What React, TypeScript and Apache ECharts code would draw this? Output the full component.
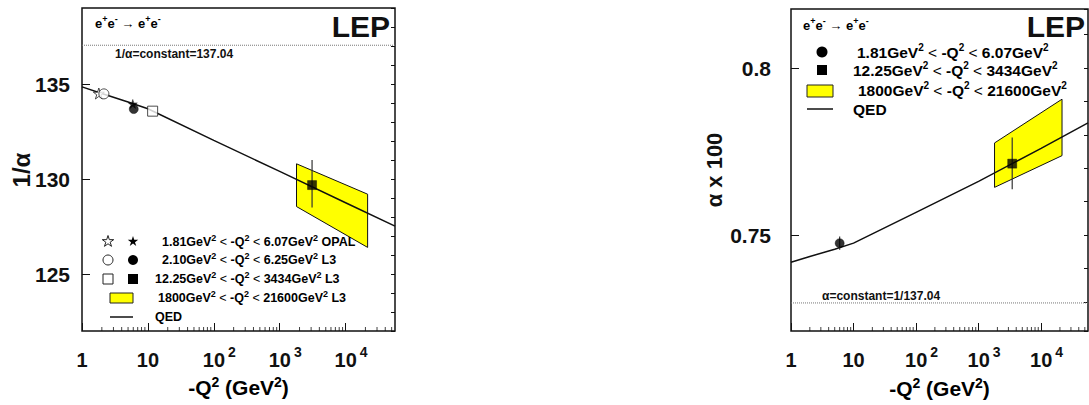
import React, { useEffect, useRef } from "react";
import * as echarts from "echarts";

const FONT = "'Liberation Sans', Arial, Helvetica, sans-serif";

// ---------- axis ranges ----------
const X_MIN = 1;
const X_MAX = 56234; // 10^4.75
const LEFT_Y_MIN = 122;
const LEFT_Y_MAX = 139;
const RIGHT_Y_MIN = 0.7213;
const RIGHT_Y_MAX = 0.8177;

// minor x ticks (2..9 per decade)
const minorXTicks = [
  2, 3, 4, 5, 6, 7, 8, 9,
  20, 30, 40, 50, 60, 70, 80, 90,
  200, 300, 400, 500, 600, 700, 800, 900,
  2000, 3000, 4000, 5000, 6000, 7000, 8000, 9000,
  20000, 30000, 40000, 50000,
];

// ---------- left panel data (1/alpha) ----------
const qedLeftQ2 = [1, 2, 5, 10, 100, 1000, 10000, 56234];
const qedLeftInv = [134.85, 134.5, 134.05, 133.7, 132.03, 130.4, 128.75, 127.52];
const leftConstant = 137.04;
const leftOpenStar = [[1.8, 134.5]];
const leftOpenCircle = [[2.15, 134.48]];
const leftFilledStar = [[5.9, 133.95]];
const leftFilledCircle = [[6.1, 133.68]];
const leftOpenSquare = [[11.8, 133.57]];
const leftFilledSquare = [[3100, 129.68]];
const leftErrorBars = [[3100, 128.5, 131.0]];
const leftBand = [[1800, 130.8, 128.55, 21600, 129.2, 126.4]];

// ---------- right panel data (alpha x 100) ----------
const qedRightQ2 = [1, 2, 5, 10, 100, 1000, 10000, 56234];
const qedRightAlpha = [0.7419, 0.7436, 0.7458, 0.7476, 0.7568, 0.7661, 0.776, 0.7836];
const rightConstant = 0.7297;
const rightFilledCircle = [[6.0, 0.7476]];
const rightFilledSquare = [[3450, 0.7714]];
const rightErrorBars = [
  [6.0, 0.7456, 0.7496],
  [3450, 0.7637, 0.7792],
];
const rightBand = [[1800, 0.7776, 0.7643, 21600, 0.7907, 0.7738]];

// star symbol path
const STAR_PATH = (() => {
  let d = "";
  for (let k = 0; k < 10; k++) {
    const a = -Math.PI / 2 + (k * Math.PI) / 5;
    const r = k % 2 ? 19 : 50;
    d += (k ? "L" : "M") + (50 + r * Math.cos(a)).toFixed(2) + " " + (50 + r * Math.sin(a)).toFixed(2);
  }
  return "path://" + d + "Z";
})();

function starPoints(cx: number, cy: number, R: number) {
  const pts: number[][] = [];
  for (let k = 0; k < 10; k++) {
    const a = -Math.PI / 2 + (k * Math.PI) / 5;
    const r = k % 2 ? R * 0.38 : R;
    pts.push([cx + r * Math.cos(a), cy + r * Math.sin(a)]);
  }
  return pts;
}

const xRich = {
  b: { fontSize: 20, fontWeight: "bold", fontFamily: FONT, color: "#111", lineHeight: 30 },
  b2: { fontSize: 20, fontWeight: "bold", fontFamily: FONT, color: "#111", lineHeight: 30, padding: [0, 0, 0, 11] },
  s: { fontSize: 14, fontWeight: "bold", fontFamily: FONT, color: "#111", lineHeight: 14, verticalAlign: "top", padding: [0, 0, 0, 3] },
};

function xLabel(v: number) {
  const n = Math.round(Math.log10(v));
  if (n === 0) return "{b|1}";
  if (n === 1) return "{b|10}";
  return "{b2|10}{s|" + n + "}";
}

function richLeg(fs: number, ss: number) {
  return {
    t: { fontSize: fs, fontWeight: "bold", fontFamily: FONT, color: "#111", lineHeight: fs + 4 },
    l: { fontSize: fs, fontFamily: FONT, color: "#444", lineHeight: fs + 4 },
    s: { fontSize: ss, fontWeight: "bold", fontFamily: FONT, color: "#111", lineHeight: ss, verticalAlign: "top" },
  };
}

function txt(x: number, y: number, text: string, rich: any, align = "left") {
  return { type: "text", x, y, style: { text, rich, align, verticalAlign: "middle" }, z: 10 };
}

function plainTxt(x: number, y: number, text: string, size: number, align = "left", rotation = 0, weight = "bold") {
  return {
    type: "text",
    x,
    y,
    rotation,
    style: { text, fontSize: size, fontWeight: weight, fontFamily: FONT, fill: "#111", align, verticalAlign: "middle" },
    z: 10,
  };
}

function bandSeries(xi: number, yi: number, data: number[][]) {
  return {
    type: "custom",
    xAxisIndex: xi,
    yAxisIndex: yi,
    dimensions: ["x0", "yt0", "yb0", "x1", "yt1", "yb1"],
    encode: { x: [0, 3], y: [1, 2, 4, 5] },
    data,
    z: 1,
    renderItem: (params: any, api: any) => {
      const p1 = api.coord([api.value(0), api.value(1)]);
      const p2 = api.coord([api.value(3), api.value(4)]);
      const p3 = api.coord([api.value(3), api.value(5)]);
      const p4 = api.coord([api.value(0), api.value(2)]);
      return {
        type: "polygon",
        shape: { points: [p1, p2, p3, p4] },
        style: { fill: "#ffff00", stroke: "#111", lineWidth: 1 },
      };
    },
  };
}

function errSeries(xi: number, yi: number, data: number[][]) {
  return {
    type: "custom",
    xAxisIndex: xi,
    yAxisIndex: yi,
    dimensions: ["x", "lo", "hi"],
    encode: { x: 0, y: [1, 2] },
    data,
    z: 4,
    renderItem: (params: any, api: any) => {
      const a = api.coord([api.value(0), api.value(1)]);
      const b = api.coord([api.value(0), api.value(2)]);
      return {
        type: "line",
        shape: { x1: a[0], y1: a[1], x2: b[0], y2: b[1] },
        style: { stroke: "#333", lineWidth: 1.2 },
      };
    },
  };
}

function scatter(xi: number, yi: number, data: number[][], symbol: string, size: number, filled: boolean) {
  return {
    type: "scatter",
    xAxisIndex: xi,
    yAxisIndex: yi,
    data,
    symbol,
    symbolSize: size,
    z: 5,
    itemStyle: filled
      ? { color: "#000", borderColor: "#000", borderWidth: 0.5 }
      : { color: "#fff", borderColor: "#222", borderWidth: 1 },
  };
}

function qedSeries(xi: number, yi: number, xs: number[], ys: number[]) {
  return {
    type: "line",
    xAxisIndex: xi,
    yAxisIndex: yi,
    data: xs.map((x, i) => [x, ys[i]]),
    symbol: "none",
    z: 3,
    lineStyle: { color: "#111", width: 1.5 },
  };
}

function constSeries(xi: number, yi: number, v: number) {
  return {
    type: "line",
    xAxisIndex: xi,
    yAxisIndex: yi,
    data: [
      [X_MIN, v],
      [X_MAX, v],
    ],
    symbol: "none",
    z: 2,
    lineStyle: { color: "#777", width: 1, type: "dotted" },
  };
}

function minorTickSeries(xi: number, yi: number, yMin: number) {
  return {
    type: "scatter",
    xAxisIndex: xi,
    yAxisIndex: yi,
    data: minorXTicks.map((v) => [v, yMin]),
    symbol: "rect",
    symbolSize: [1, 4],
    symbolOffset: [0, -2],
    clip: false,
    silent: true,
    z: 6,
    itemStyle: { color: "#111" },
  };
}

function xAxisDef(gridIndex: number) {
  return {
    type: "log",
    logBase: 10,
    gridIndex,
    min: X_MIN,
    max: X_MAX,
    axisLine: { show: false },
    splitLine: { show: false },
    axisTick: { show: true, inside: true, length: 8, lineStyle: { color: "#111", width: 1 } },
    axisLabel: { formatter: xLabel, rich: xRich, margin: 14, showMaxLabel: false, showMinLabel: true },
  };
}

export default function App() {
  const ref = useRef<HTMLDivElement>(null);

  useEffect(() => {
    if (!ref.current) return;
    const chart = echarts.init(ref.current, undefined, { renderer: "svg" });

    const legL = richLeg(12.5, 9);
    const legR = richLeg(15.5, 10);
    const eeRich = richLeg(13, 9);

    const option: any = {
      animation: false,
      backgroundColor: "#fff",
      grid: [
        { left: 82, top: 8, width: 313, height: 323, show: true, borderColor: "#111", borderWidth: 1.5, backgroundColor: "transparent" },
        { left: 791, top: 9, width: 297, height: 322, show: true, borderColor: "#111", borderWidth: 1.5, backgroundColor: "transparent" },
      ],
      xAxis: [xAxisDef(0), xAxisDef(1)],
      yAxis: [
        {
          type: "value",
          gridIndex: 0,
          min: LEFT_Y_MIN,
          max: LEFT_Y_MAX,
          splitNumber: 3,
          axisLine: { show: false },
          splitLine: { show: false },
          axisTick: { inside: true, length: 8, lineStyle: { color: "#111" } },
          axisLabel: {
            showMinLabel: false,
            showMaxLabel: false,
            margin: 12,
            fontSize: 21,
            fontWeight: "bold",
            fontFamily: FONT,
            color: "#111",
            formatter: (v: number) => String(Math.round(v)),
          },
        },
        {
          type: "value",
          gridIndex: 0,
          min: LEFT_Y_MIN,
          max: LEFT_Y_MAX,
          interval: 1,
          axisLine: { show: false },
          splitLine: { show: false },
          axisTick: { inside: true, length: 4, lineStyle: { color: "#111" } },
          axisLabel: { show: false },
        },
        {
          type: "value",
          gridIndex: 1,
          min: RIGHT_Y_MIN,
          max: RIGHT_Y_MAX,
          splitNumber: 2,
          axisLine: { show: false },
          splitLine: { show: false },
          axisTick: { inside: true, length: 8, lineStyle: { color: "#111" } },
          axisLabel: {
            showMinLabel: false,
            showMaxLabel: false,
            margin: 20,
            fontSize: 21,
            fontWeight: "bold",
            fontFamily: FONT,
            color: "#111",
            formatter: (v: number) => String(Math.round(v * 100) / 100),
          },
        },
        {
          type: "value",
          gridIndex: 1,
          min: RIGHT_Y_MIN,
          max: RIGHT_Y_MAX,
          splitNumber: 10,
          axisLine: { show: false },
          splitLine: { show: false },
          axisTick: { inside: true, length: 4, lineStyle: { color: "#111" } },
          axisLabel: { show: false },
        },
      ],
      series: [
        // left panel
        bandSeries(0, 0, leftBand),
        constSeries(0, 0, leftConstant),
        qedSeries(0, 0, qedLeftQ2, qedLeftInv),
        errSeries(0, 0, leftErrorBars),
        scatter(0, 0, leftOpenStar, STAR_PATH, 11, false),
        scatter(0, 0, leftOpenCircle, "circle", 10, false),
        scatter(0, 0, leftFilledStar, STAR_PATH, 9, true),
        scatter(0, 0, leftFilledCircle, "circle", 9, true),
        scatter(0, 0, leftOpenSquare, "rect", 10, false),
        scatter(0, 0, leftFilledSquare, "rect", 9, true),
        minorTickSeries(0, 0, LEFT_Y_MIN),
        // right panel
        bandSeries(1, 2, rightBand),
        constSeries(1, 2, rightConstant),
        qedSeries(1, 2, qedRightQ2, qedRightAlpha),
        errSeries(1, 2, rightErrorBars),
        scatter(1, 2, rightFilledCircle, "circle", 9, true),
        scatter(1, 2, rightFilledSquare, "rect", 9, true),
        minorTickSeries(1, 2, RIGHT_Y_MIN),
      ],
      graphic: [
        // ----- left panel texts -----
        txt(95, 23, "{t|e}{s|+}{t|e}{s|-}{t| → e}{s|+}{t|e}{s|-}", eeRich),
        plainTxt(390, 26, "LEP", 30, "right"),
        plainTxt(115, 54, "1/α=constant=137.04", 12),
        // legend left
        { type: "polygon", shape: { points: starPoints(108, 241.5, 6) }, style: { fill: "#fff", stroke: "#222", lineWidth: 1 }, z: 10 },
        { type: "polygon", shape: { points: starPoints(133, 241.5, 5.5) }, style: { fill: "#000" }, z: 10 },
        { type: "circle", shape: { cx: 108, cy: 260, r: 5 }, style: { fill: "#fff", stroke: "#222", lineWidth: 1 }, z: 10 },
        { type: "circle", shape: { cx: 133, cy: 260, r: 5 }, style: { fill: "#000" }, z: 10 },
        { type: "rect", shape: { x: 103, y: 274, width: 10, height: 10 }, style: { fill: "#fff", stroke: "#222", lineWidth: 1 }, z: 10 },
        { type: "rect", shape: { x: 128, y: 274, width: 10, height: 10 }, style: { fill: "#000" }, z: 10 },
        { type: "rect", shape: { x: 110, y: 293, width: 23, height: 10 }, style: { fill: "#ffff00", stroke: "#222", lineWidth: 1 }, z: 10 },
        { type: "line", shape: { x1: 110, y1: 317, x2: 133, y2: 317 }, style: { stroke: "#111", lineWidth: 1.5 }, z: 10 },
        txt(162, 241.5, "{t|1.81GeV}{s|2}{l| < }{t|-Q}{s|2}{l| < }{t|6.07GeV}{s|2}{t| OPAL}", legL),
        txt(162, 260, "{t|2.10GeV}{s|2}{l| < }{t|-Q}{s|2}{l| < }{t|6.25GeV}{s|2}{t| L3}", legL),
        txt(155, 279, "{t|12.25GeV}{s|2}{l| < }{t|-Q}{s|2}{l| < }{t|3434GeV}{s|2}{t| L3}", legL),
        txt(158, 298, "{t|1800GeV}{s|2}{l| < }{t|-Q}{s|2}{l| < }{t|21600GeV}{s|2}{t| L3}", legL),
        txt(155, 317, "{t|QED}", legL),
        // left axis names
        txt(238.5, 387, "{t|-Q}{s|2}{t| (GeV}{s|2}{t|)}", richLeg(21, 14), "center"),
        plainTxt(21, 170, "1/α", 24, "center", Math.PI / 2),

        // ----- right panel texts -----
        txt(803, 25, "{t|e}{s|+}{t|e}{s|-}{t| → e}{s|+}{t|e}{s|-}", eeRich),
        plainTxt(1085, 26, "LEP", 30, "right"),
        plainTxt(822, 296, "α=constant=1/137.04", 12),
        { type: "circle", shape: { cx: 822, cy: 52, r: 5.5 }, style: { fill: "#000" }, z: 10 },
        { type: "rect", shape: { x: 817, y: 65, width: 10, height: 10 }, style: { fill: "#000" }, z: 10 },
        { type: "rect", shape: { x: 807, y: 85, width: 26, height: 12 }, style: { fill: "#ffff00", stroke: "#222", lineWidth: 1 }, z: 10 },
        { type: "line", shape: { x1: 807, y1: 109, x2: 833, y2: 109 }, style: { stroke: "#111", lineWidth: 1.5 }, z: 10 },
        txt(857, 52.5, "{t|1.81GeV}{s|2}{l| < }{t|-Q}{s|2}{l| < }{t|6.07GeV}{s|2}", legR),
        txt(853, 70.5, "{t|12.25GeV}{s|2}{l| < }{t|-Q}{s|2}{l| < }{t|3434GeV}{s|2}", legR),
        txt(858, 90, "{t|1800GeV}{s|2}{l| < }{t|-Q}{s|2}{l| < }{t|21600GeV}{s|2}", legR),
        txt(853, 109, "{t|QED}", legR),
        // right axis names
        txt(939.5, 388, "{t|-Q}{s|2}{t| (GeV}{s|2}{t|)}", richLeg(21, 14), "center"),
        plainTxt(714, 170, "α x 100", 22, "center", Math.PI / 2),
      ],
    };

    chart.setOption(option);
    return () => chart.dispose();
  }, []);

  return (
    <div
      ref={ref}
      style={{ position: "absolute", left: 0, top: 0, width: 1089, height: 405, background: "#fff" }}
    />
  );
}
